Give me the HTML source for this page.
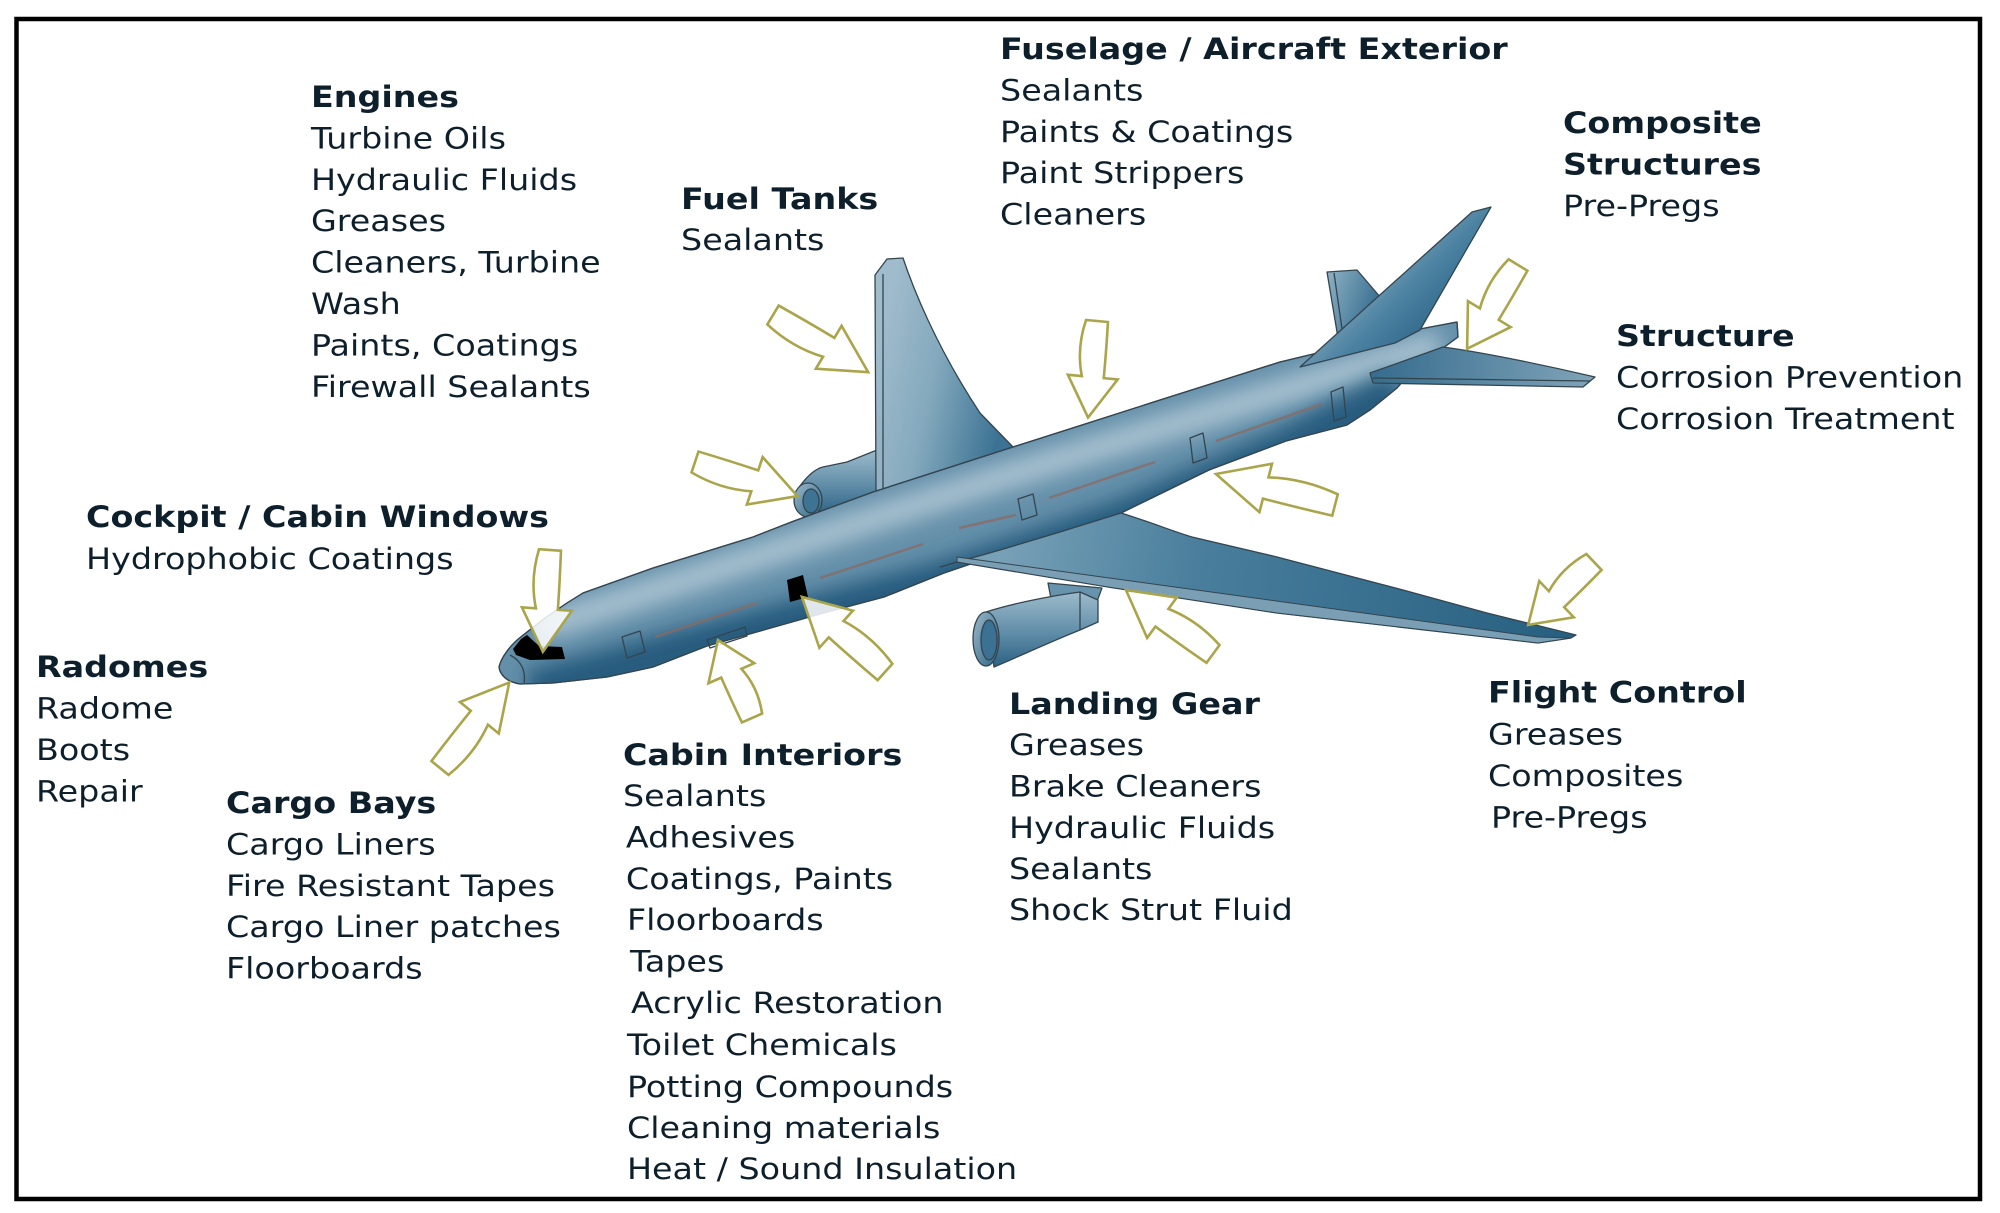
<!DOCTYPE html>
<html>
<head>
<meta charset="utf-8">
<style>
html,body{margin:0;padding:0;background:#fff;}
svg{display:block;}
</style>
</head>
<body>
<svg width="2000" height="1213" viewBox="0 0 2000 1213" xmlns="http://www.w3.org/2000/svg">
<defs>
  <filter id="blur" filterUnits="userSpaceOnUse" x="0" y="0" width="2000" height="1213">
    <feGaussianBlur stdDeviation="10"/>
  </filter>
  <clipPath id="fclip">
    <path d="M499,667 C501,658 510,645 522,636 L545,618 L567,603 L583,593 L653,568 L753,537 L794,521 L873,492 L1013,447 L1082,425 L1160,400 L1280,362 L1330,350 L1420,329 L1457,322 L1458,337 L1443,348 L1420,362 L1397,388 L1370,410 L1347,425 L1286,441 L1209,470 L1121,513 L1000,554 L944,573 L884,597 L820,614 L753,633 L707,646 L653,667 L607,677 L553,683 L520,684 C507,682 500,675 499,667 Z"/>
  </clipPath>
  <linearGradient id="gFarWing" gradientUnits="userSpaceOnUse" x1="876" y1="350" x2="1010" y2="380">
    <stop offset="0" stop-color="#a0bccc"/>
    <stop offset="0.45" stop-color="#84a9bd"/>
    <stop offset="1" stop-color="#3c7394"/>
  </linearGradient>
  <linearGradient id="gFin" gradientUnits="userSpaceOnUse" x1="1370" y1="250" x2="1450" y2="330">
    <stop offset="0" stop-color="#8aaec1"/>
    <stop offset="0.5" stop-color="#4b81a1"/>
    <stop offset="1" stop-color="#2a6284"/>
  </linearGradient>
  <linearGradient id="gStub" gradientUnits="userSpaceOnUse" x1="1327" y1="280" x2="1380" y2="300">
    <stop offset="0" stop-color="#8aaec1"/>
    <stop offset="1" stop-color="#386f91"/>
  </linearGradient>
  <linearGradient id="gWing" gradientUnits="userSpaceOnUse" x1="1000" y1="540" x2="1560" y2="640">
    <stop offset="0" stop-color="#78a1b7"/>
    <stop offset="0.35" stop-color="#497e9c"/>
    <stop offset="1" stop-color="#286081"/>
  </linearGradient>
  <linearGradient id="gStab" gradientUnits="userSpaceOnUse" x1="1380" y1="360" x2="1590" y2="380">
    <stop offset="0" stop-color="#386e8f"/>
    <stop offset="1" stop-color="#7fa3b8"/>
  </linearGradient>
  <linearGradient id="gEng" x1="0" y1="0" x2="0" y2="1">
    <stop offset="0" stop-color="#9dbbcb"/>
    <stop offset="0.5" stop-color="#6591ab"/>
    <stop offset="1" stop-color="#2c6284"/>
  </linearGradient>
  <linearGradient id="gInlet" x1="0" y1="0" x2="1" y2="1">
    <stop offset="0" stop-color="#9cb9c9"/>
    <stop offset="1" stop-color="#2e6485"/>
  </linearGradient>
</defs>

<rect x="0" y="0" width="2000" height="1213" fill="#ffffff"/>
<rect x="16.5" y="19" width="1963.5" height="1180" fill="none" stroke="#000" stroke-width="4.5"/>

<!-- ============ AIRPLANE ============ -->
<g stroke="#33454f" stroke-width="1.3" stroke-linejoin="round">
  <!-- far engine -->
  <path d="M800,486 C808,475 815,469 823,467 L847,462 L877,450 L880,495 L820,515 C812,516 806,514 800,510 Z" fill="url(#gEng)"/>
  <ellipse cx="808" cy="500" rx="14" ry="17" fill="url(#gInlet)"/>
  <ellipse cx="811" cy="501" rx="8" ry="12" fill="#3d7393"/>
  <!-- far wing -->
  <path d="M876,495 L875,275 L887,259 L903,258 C912,285 935,345 980,413 L1013,447 L1013,470 L876,510 Z" fill="url(#gFarWing)"/>
  <path d="M883,274 L883,490" fill="none"/>
  <!-- far horizontal stab stub -->
  <path d="M1327,272 L1357,270 L1381,298 L1345,338 L1338,338 Z" fill="url(#gStub)"/>
  <path d="M1334,273 L1343,336" fill="none"/>

  <!-- fuselage -->
  <path d="M499,667 C501,658 510,645 522,636 L545,618 L567,603 L583,593 L653,568 L753,537 L794,521 L873,492 L1013,447 L1082,425 L1160,400 L1280,362 L1330,350 L1420,329 L1457,322 L1458,337 L1443,348 L1420,362 L1397,388 L1370,410 L1347,425 L1286,441 L1209,470 L1121,513 L1000,554 L944,573 L884,597 L820,614 L753,633 L707,646 L653,667 L607,677 L553,683 L520,684 C507,682 500,675 499,667 Z" fill="#6590aa"/>
</g>
<g clip-path="url(#fclip)">
  <path d="M545,626 L1000,478 L1440,343" fill="none" stroke="#a6c0cf" stroke-width="28" filter="url(#blur)"/>
  <path d="M530,692 L944,582 L1121,522 L1286,450 L1400,392" fill="none" stroke="#275c7e" stroke-width="44" filter="url(#blur)"/>
</g>
<g stroke="#33454f" stroke-width="1.3" stroke-linejoin="round">
  <path d="M499,667 C501,658 510,645 522,636 L545,618 L567,603 L583,593 L653,568 L753,537 L794,521 L873,492 L1013,447 L1082,425 L1160,400 L1280,362 L1330,350 L1420,329 L1457,322 L1458,337 L1443,348 L1420,362 L1397,388 L1370,410 L1347,425 L1286,441 L1209,470 L1121,513 L1000,554 L944,573 L884,597 L820,614 L753,633 L707,646 L653,667 L607,677 L553,683 L520,684 C507,682 500,675 499,667 Z" fill="none"/>
  <!-- nose cap line -->
  <path d="M510,655 C522,661 526,672 524,684" fill="none"/>
  <!-- vertical fin -->
  <path d="M1300,367 L1472,212 L1491,207 L1420,330 L1395,343 Z" fill="url(#gFin)"/>
  <!-- near horizontal stab -->
  <path d="M1370,373 L1443,347 C1480,352 1540,364 1595,377 L1583,387 L1373,383 Z" fill="url(#gStab)"/>
  <path d="M1373,378 L1590,381" fill="none"/>
  <!-- near wing -->
  <path d="M940,567 L1000,550 L1060,532 L1121,513 C1150,522 1175,532 1192,537 L1277,557 L1403,590 L1487,613 L1576,635 L1571,638 L1538,643 L1277,613 L1108,587 L957,562 Z" fill="url(#gWing)"/>
  <path d="M957,557 L1538,637 L1571,638 L1538,643 L1277,613 L1108,587 L957,562 Z" fill="#7a9fb4" stroke-width="1"/>
  <!-- near engine -->
  <path d="M1048,583 L1102,588 L1096,604 L1052,604 Z" fill="#6893ac"/>
  <path d="M986,612 C1010,604 1050,596 1080,592 L1098,600 L1098,622 L1080,630 C1050,642 1020,656 994,667 Z" fill="url(#gEng)"/>
  <path d="M1080,592 L1080,630" fill="none"/>
  <ellipse cx="986" cy="639" rx="13" ry="27" fill="url(#gInlet)"/>
  <ellipse cx="989" cy="640" rx="8" ry="20" fill="#3b7192"/>
  <!-- doors -->
  <path d="M622,637 L640,631 L645,652 L627,658 Z" fill="none"/>
  <path d="M707,640 L745,627 L747,636 L710,648 Z" fill="none"/>
  <path d="M1018,499 L1033,494 L1037,515 L1022,520 Z" fill="none"/>
  <path d="M1190,438 L1203,433 L1207,458 L1193,463 Z" fill="none"/>
  <path d="M1331,392 L1343,387 L1346,417 L1334,421 Z" fill="none"/>
</g>
<!-- window stripes -->
<g stroke="#8c6a62" stroke-width="2.5" opacity="0.75" fill="none">
  <path d="M655,637 L757,603"/>
  <path d="M820,578 L923,544"/>
  <path d="M959,528 L1016,515"/>
  <path d="M1049,498 L1155,462"/>
  <path d="M1216,441 L1322,404"/>
</g>
<!-- cockpit windows & black door -->
<path d="M513,649 L521,639 L527,635 L539,646 L562,647 L565,659 L530,660 L516,655 Z" fill="#000"/>
<path d="M787,580 L803,575 L808,597 L790,602 Z" fill="#000"/>

<!-- ============ ARROWS ============ -->
<g fill="#ffffff" fill-opacity="0.85" stroke="#aaa54b" stroke-width="2.6" stroke-linejoin="miter">
  <path vector-effect="non-scaling-stroke" transform="translate(773,315) rotate(31) scale(1.11,1)" d="M0,-11 Q30,-12 58,-12 L58,-26 L100,0 L58,24 L58,10 Q30,18 0,11 Z"/>
  <path vector-effect="non-scaling-stroke" transform="translate(695,462) rotate(18.4) scale(1.08,1)" d="M0,-11 Q30,-12 58,-12 L58,-26 L100,0 L58,24 L58,10 Q30,18 0,11 Z"/>
  <path vector-effect="non-scaling-stroke" transform="translate(550,550) rotate(94) scale(1.02,1)" d="M0,-11 Q30,-12 58,-12 L58,-26 L100,0 L58,24 L58,10 Q30,18 0,11 Z"/>
  <path vector-effect="non-scaling-stroke" transform="translate(440,768) rotate(-51) scale(1.10,1)" d="M0,-11 Q30,-12 58,-12 L58,-26 L100,0 L58,24 L58,10 Q30,18 0,11 Z"/>
  <path vector-effect="non-scaling-stroke" transform="translate(752,718) rotate(-113.6) scale(0.85,1)" d="M0,-11 Q30,-12 58,-12 L58,-26 L100,0 L58,24 L58,10 Q30,18 0,11 Z"/>
  <path vector-effect="non-scaling-stroke" transform="translate(885,672) rotate(-137.9) scale(1.12,1)" d="M0,-11 Q30,-12 58,-12 L58,-26 L100,0 L58,24 L58,10 Q30,18 0,11 Z"/>
  <path vector-effect="non-scaling-stroke" transform="translate(1097,321) rotate(95.3) scale(0.97,1)" d="M0,-11 Q30,-12 58,-12 L58,-26 L100,0 L58,24 L58,10 Q30,18 0,11 Z"/>
  <path vector-effect="non-scaling-stroke" transform="translate(1518,265) rotate(121.3) scale(0.98,1)" d="M0,-11 Q30,-12 58,-12 L58,-26 L100,0 L58,24 L58,10 Q30,18 0,11 Z"/>
  <path vector-effect="non-scaling-stroke" transform="translate(1335,505) rotate(-165.4) scale(1.23,1)" d="M0,-11 Q30,-12 58,-12 L58,-26 L100,0 L58,24 L58,10 Q30,18 0,11 Z"/>
  <path vector-effect="non-scaling-stroke" transform="translate(1213,654) rotate(-143.7) scale(1.08,1)" d="M0,-11 Q30,-12 58,-12 L58,-26 L100,0 L58,24 L58,10 Q30,18 0,11 Z"/>
  <path vector-effect="non-scaling-stroke" transform="translate(1594,562) rotate(136.3) scale(0.91,1)" d="M0,-11 Q30,-12 58,-12 L58,-26 L100,0 L58,24 L58,10 Q30,18 0,11 Z"/>
</g>

<!-- ============ TEXT ============ -->
<g transform="scale(1.15,1)" font-family="'DejaVu Sans', Verdana, sans-serif" font-size="29" fill="#0e1f2c">
  <!-- Engines -->
  <text x="270.4" y="107" font-weight="bold">Engines</text>
  <text x="270.4" y="148.4">Turbine Oils</text>
  <text x="270.4" y="189.8">Hydraulic Fluids</text>
  <text x="270.4" y="231.2">Greases</text>
  <text x="270.4" y="272.6">Cleaners, Turbine</text>
  <text x="270.4" y="314">Wash</text>
  <text x="270.4" y="355.4">Paints, Coatings</text>
  <text x="270.4" y="396.8">Firewall Sealants</text>

  <!-- Fuel Tanks -->
  <text x="592.2" y="209" font-weight="bold">Fuel Tanks</text>
  <text x="592.2" y="250">Sealants</text>

  <!-- Fuselage -->
  <text x="869.6" y="59" font-weight="bold">Fuselage / Aircraft Exterior</text>
  <text x="869.6" y="100.5">Sealants</text>
  <text x="869.6" y="142">Paints &amp; Coatings</text>
  <text x="869.6" y="183">Paint Strippers</text>
  <text x="869.6" y="224.5">Cleaners</text>

  <!-- Composite -->
  <text x="1359.1" y="133" font-weight="bold">Composite</text>
  <text x="1359.1" y="174.5" font-weight="bold">Structures</text>
  <text x="1359.1" y="216">Pre-Pregs</text>

  <!-- Structure -->
  <text x="1405.2" y="346" font-weight="bold">Structure</text>
  <text x="1405.2" y="387.5">Corrosion Prevention</text>
  <text x="1405.2" y="429">Corrosion Treatment</text>

  <!-- Cockpit -->
  <text x="74.8" y="527" font-weight="bold">Cockpit / Cabin Windows</text>
  <text x="74.8" y="569">Hydrophobic Coatings</text>

  <!-- Radomes -->
  <text x="31.3" y="677" font-weight="bold">Radomes</text>
  <text x="31.3" y="718.5">Radome</text>
  <text x="31.3" y="760">Boots</text>
  <text x="31.3" y="801.5">Repair</text>

  <!-- Cargo Bays -->
  <text x="196.5" y="813" font-weight="bold">Cargo Bays</text>
  <text x="196.5" y="854.5">Cargo Liners</text>
  <text x="196.5" y="896">Fire Resistant Tapes</text>
  <text x="196.5" y="937">Cargo Liner patches</text>
  <text x="196.5" y="978.5">Floorboards</text>

  <!-- Cabin Interiors -->
  <text x="541.7" y="765" font-weight="bold">Cabin Interiors</text>
  <text x="541.7" y="806">Sealants</text>
  <text x="544.3" y="847.5">Adhesives</text>
  <text x="544.3" y="889">Coatings, Paints</text>
  <text x="545.2" y="930">Floorboards</text>
  <text x="547.8" y="971.5">Tapes</text>
  <text x="548.7" y="1013">Acrylic Restoration</text>
  <text x="545.2" y="1055">Toilet Chemicals</text>
  <text x="545.2" y="1097">Potting Compounds</text>
  <text x="545.2" y="1138">Cleaning materials</text>
  <text x="545.2" y="1179">Heat / Sound Insulation</text>

  <!-- Landing Gear -->
  <text x="877.4" y="714" font-weight="bold">Landing Gear</text>
  <text x="877.4" y="755">Greases</text>
  <text x="877.4" y="796.5">Brake Cleaners</text>
  <text x="877.4" y="838">Hydraulic Fluids</text>
  <text x="877.4" y="879">Sealants</text>
  <text x="877.4" y="920">Shock Strut Fluid</text>

  <!-- Flight Control -->
  <text x="1293.9" y="702.5" font-weight="bold">Flight Control</text>
  <text x="1293.9" y="744.5">Greases</text>
  <text x="1293.9" y="786">Composites</text>
  <text x="1296.5" y="827.5">Pre-Pregs</text>
</g>
</svg>
</body>
</html>
